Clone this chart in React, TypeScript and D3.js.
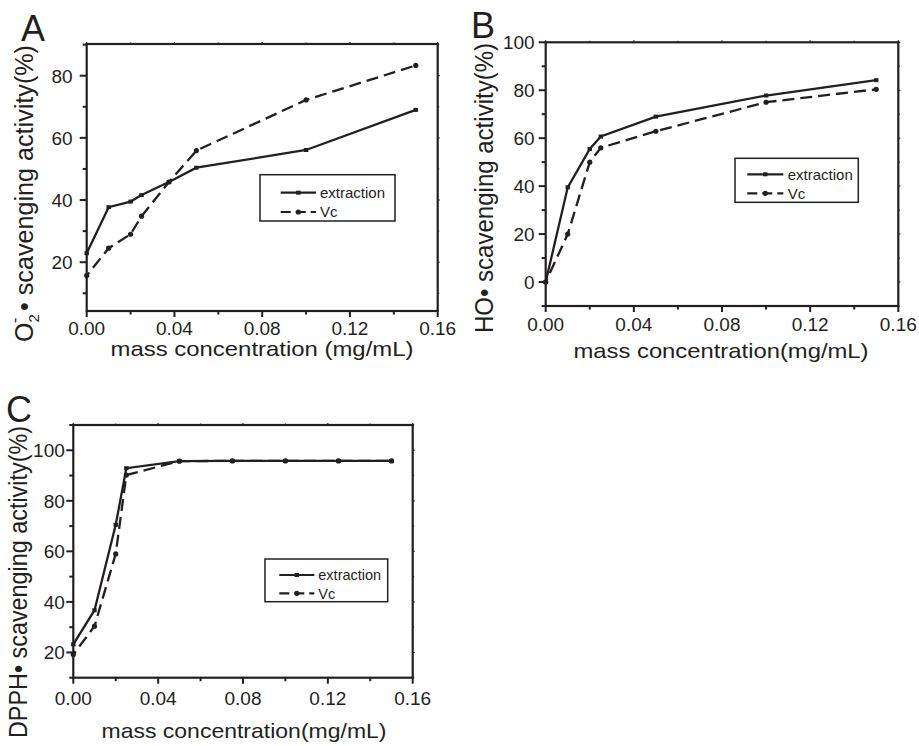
import * as d3 from "d3";

// Panel A - O2•- scavenging
const xA = [0, 0.01, 0.02, 0.025, 0.0375, 0.05, 0.1, 0.15];
const extA = [22.9, 37.7, 39.5, 41.6, 45.8, 50.4, 56.1, 69];
const vcA = [15.7, 24.5, 29, 34.8, 45.8, 55.9, 72.2, 83.3];

// Panel B - HO• scavenging
const xB = [0, 0.01, 0.02, 0.025, 0.05, 0.1, 0.15];
const extB = [0, 39.5, 55.5, 60.7, 69, 77.8, 84.2];
const vcB = [0, 20, 50, 56, 62.9, 75, 80.4];

// Panel C - DPPH• scavenging
const xC = [0, 0.01, 0.02, 0.025, 0.05, 0.075, 0.1, 0.125, 0.15];
const extC = [23.2, 36.7, 70.5, 92.9, 95.7, 95.8, 95.8, 95.8, 95.8];
const vcC = [19.2, 30.4, 59, 90.2, 95.7, 95.8, 95.8, 95.8, 95.8];

const xTicks = [0, 0.04, 0.08, 0.12, 0.16];
const xMinor = [0.02, 0.06, 0.1, 0.14];
const seriesNames = ["extraction", "Vc"];

const FONT = "'Liberation Sans', Arial, Helvetica, sans-serif";
const INK = "#231f20";

type PanelProps = {
  box: { l: number; r: number; t: number; b: number };
  yDomain: [number, number];
  yTicks: number[];
  yMinor: number[];
  xs: number[];
  ext: number[];
  vc: number[];
  labelGap: number;
  tickBase: number;
  legend: { x0: number; y0: number; x1: number; y1: number; lx0: number; lx1: number; tx: number; r1: number; r2: number; fs: number };
};

const Panel = ({ box, yDomain, yTicks, yMinor, xs, ext, vc, labelGap, tickBase, legend }: PanelProps) => {
  const x = d3.scaleLinear().domain([0, 0.16]).range([box.l, box.r]);
  const y = d3.scaleLinear().domain(yDomain).range([box.b, box.t]);
  const line = d3
    .line<[number, number]>()
    .x((d) => x(d[0]))
    .y((d) => y(d[1]));
  const extPts = xs.map((v, i) => [v, ext[i]] as [number, number]);
  const vcPts = xs.map((v, i) => [v, vc[i]] as [number, number]);
  const inY = (v: number) => v >= yDomain[0] - 0.01 && v <= yDomain[1] + 0.01;

  return (
    <g>
      {/* ticks */}
      {xTicks.map((t) => (
        <g key={"xt" + t}>
          <line x1={x(t)} x2={x(t)} y1={box.b} y2={box.b + 6} stroke={INK} strokeWidth={2} />
          <line x1={x(t)} x2={x(t)} y1={box.t} y2={box.t - 2} stroke={INK} strokeWidth={1.2} />
          <text x={x(t)} y={tickBase} textAnchor="middle" fontSize={19} fill={INK}>
            {t.toFixed(2)}
          </text>
        </g>
      ))}
      {xMinor.map((t) => (
        <g key={"xm" + t}>
          <line x1={x(t)} x2={x(t)} y1={box.b} y2={box.b + 3.5} stroke={INK} strokeWidth={2} />
          <line x1={x(t)} x2={x(t)} y1={box.t} y2={box.t - 1.5} stroke={INK} strokeWidth={1.2} />
        </g>
      ))}
      {yTicks.map((t) => (
        <g key={"yt" + t}>
          <line x1={box.l - 7} x2={box.l} y1={y(t)} y2={y(t)} stroke={INK} strokeWidth={2} />
          <line x1={box.r} x2={box.r + 2} y1={y(t)} y2={y(t)} stroke={INK} strokeWidth={1.2} />
          <text x={box.l - labelGap} y={y(t) + 6.8} textAnchor="end" fontSize={19} fill={INK}>
            {t}
          </text>
        </g>
      ))}
      {yMinor.filter(inY).map((t) => (
        <g key={"ym" + t}>
          <line x1={box.l - 4} x2={box.l} y1={y(t)} y2={y(t)} stroke={INK} strokeWidth={2} />
          <line x1={box.r} x2={box.r + 1.5} y1={y(t)} y2={y(t)} stroke={INK} strokeWidth={1.2} />
        </g>
      ))}
      <rect x={box.l} y={box.t} width={box.r - box.l} height={box.b - box.t} fill="none" stroke={INK} strokeWidth={2.2} />

      {/* series */}
      <path d={line(vcPts) ?? ""} fill="none" stroke={INK} strokeWidth={2.3} strokeDasharray="12,6" strokeDashoffset={8} />
      {vcPts.map((p, i) => (
        <circle key={"vc" + i} cx={x(p[0])} cy={y(p[1])} r={2.6} fill={INK} />
      ))}
      <path d={line(extPts) ?? ""} fill="none" stroke={INK} strokeWidth={2.3} />
      {extPts.map((p, i) => (
        <rect key={"ex" + i} x={x(p[0]) - 2.2} y={y(p[1]) - 2} width={4.4} height={4} fill={INK} />
      ))}

      {/* legend */}
      <rect x={legend.x0} y={legend.y0} width={legend.x1 - legend.x0} height={legend.y1 - legend.y0} fill="#fff" stroke={INK} strokeWidth={1.5} />
      <line x1={legend.lx0} x2={legend.lx1} y1={legend.r1} y2={legend.r1} stroke={INK} strokeWidth={2.2} />
      <rect x={(legend.lx0 + legend.lx1) / 2 - 2.2} y={legend.r1 - 2} width={4.4} height={4} fill={INK} />
      <line x1={legend.lx0} x2={legend.lx1} y1={legend.r2} y2={legend.r2} stroke={INK} strokeWidth={2.2} strokeDasharray="10,5" />
      <circle cx={(legend.lx0 + legend.lx1) / 2} cy={legend.r2} r={2.6} fill={INK} />
      <text x={legend.tx} y={legend.r1 + legend.fs * 0.36} fontSize={legend.fs} fill={INK}>
        {seriesNames[0]}
      </text>
      <text x={legend.tx} y={legend.r2 + legend.fs * 0.36} fontSize={legend.fs} fill={INK}>
        {seriesNames[1]}
      </text>
    </g>
  );
};

export default function App() {
  return (
    <svg
      width={919}
      height={746}
      style={{ position: "absolute", left: 0, top: 0, background: "#fff" }}
      fontFamily={FONT}
    >
      <rect width={919} height={746} fill="#fff" />

      {/* Panel A */}
      <text x={21} y={41} fontSize={36} fill={INK}>A</text>
      <Panel
        box={{ l: 86.7, r: 437.7, t: 44, b: 311 }}
        yDomain={[4.3, 90.2]}
        yTicks={[20, 40, 60, 80]}
        yMinor={[10, 30, 50, 70, 90]}
        xs={xA}
        ext={extA}
        vc={vcA}
        labelGap={14}
        tickBase={335}
        legend={{ x0: 260, y0: 174.7, x1: 395, y1: 221, lx0: 280.7, lx1: 316, tx: 320, r1: 192.7, r2: 212, fs: 15 }}
      />
      <text x={262} y={356} textAnchor="middle" fontSize={21} fill={INK} textLength={303} lengthAdjust="spacingAndGlyphs">
        mass concentration (mg/mL)
      </text>
      <text transform="translate(33,342) rotate(-90)" fontSize={25} fill={INK}>
        <tspan>O</tspan>
        <tspan dy={6} fontSize={15}>2</tspan>
        <tspan dx={-9} dy={-19} fontSize={17}>-</tspan>
      </text>
      <text transform="translate(33,311) rotate(-90)" fontSize={25} fill={INK} textLength={266} lengthAdjust="spacingAndGlyphs">
        • scavenging activity(%)
      </text>

      {/* Panel B */}
      <text x={471} y={38} fontSize={36} fill={INK}>B</text>
      <Panel
        box={{ l: 545.7, r: 898.3, t: 42.3, b: 306 }}
        yDomain={[-10, 100]}
        yTicks={[0, 20, 40, 60, 80, 100]}
        yMinor={[-10, 10, 30, 50, 70, 90]}
        xs={xB}
        ext={extB}
        vc={vcB}
        labelGap={11}
        tickBase={331}
        legend={{ x0: 735, y0: 158.3, x1: 858.3, y1: 202.3, lx0: 747.3, lx1: 783.3, tx: 787.7, r1: 174.3, r2: 193.3, fs: 15 }}
      />
      <text x={721} y={358} textAnchor="middle" fontSize={21} fill={INK} textLength={295} lengthAdjust="spacingAndGlyphs">
        mass concentration(mg/mL)
      </text>
      <text transform="translate(493,333) rotate(-90)" fontSize={25} fill={INK} textLength={290} lengthAdjust="spacingAndGlyphs">
        HO• scavenging activity(%)
      </text>

      {/* Panel C */}
      <text x={6} y={422} fontSize={36} fill={INK}>C</text>
      <Panel
        box={{ l: 73.3, r: 412.7, t: 425, b: 677.7 }}
        yDomain={[10, 110]}
        yTicks={[20, 40, 60, 80, 100]}
        yMinor={[10, 30, 50, 70, 90, 110]}
        xs={xC}
        ext={extC}
        vc={vcC}
        labelGap={8.5}
        tickBase={705}
        legend={{ x0: 265, y0: 559, x1: 387.7, y1: 601.7, lx0: 279.3, lx1: 314.3, tx: 318.3, r1: 575, r2: 593.3, fs: 14.5 }}
      />
      <text x={244} y={738} textAnchor="middle" fontSize={21} fill={INK} textLength={285} lengthAdjust="spacingAndGlyphs">
        mass concentration(mg/mL)
      </text>
      <text transform="translate(27,738) rotate(-90)" fontSize={25} fill={INK} textLength={312} lengthAdjust="spacingAndGlyphs">
        DPPH• scavenging activity(%)
      </text>
    </svg>
  );
}
